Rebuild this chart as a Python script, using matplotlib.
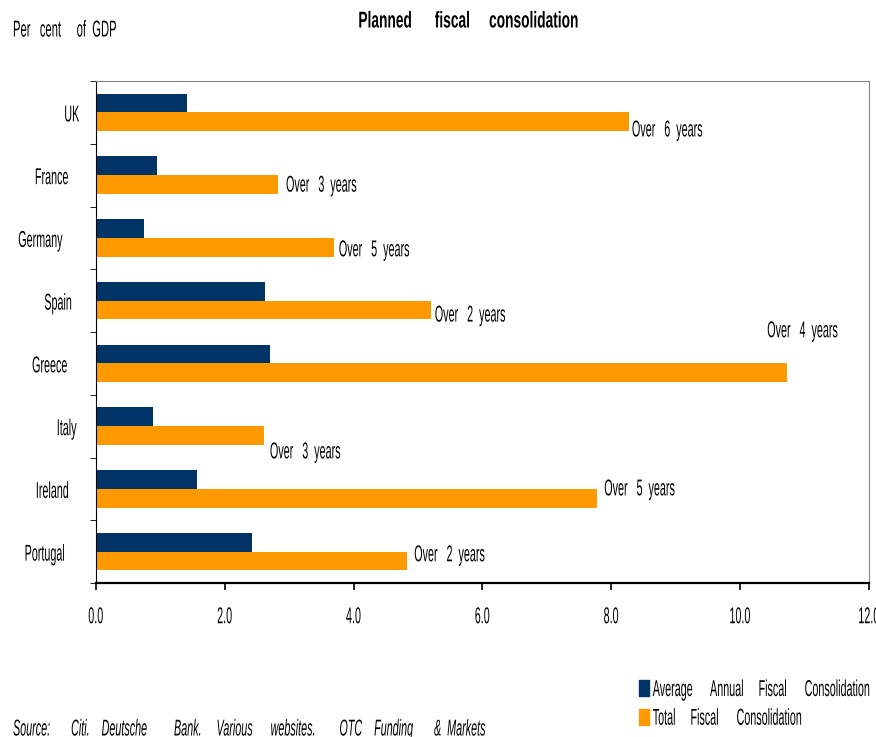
import matplotlib.pyplot as plt
import numpy as np
from matplotlib.patches import Patch
from matplotlib.patheffects import AbstractPathEffect
from matplotlib.transforms import Affine2D

plt.rcParams['font.family'] = ['Liberation Sans', 'DejaVu Sans']

countries = ["UK", "France", "Germany", "Spain", "Greece", "Italy", "Ireland", "Portugal"]
avg_annual = [1.41, 0.95, 0.75, 2.62, 2.70, 0.89, 1.57, 2.42]
total = [8.28, 2.83, 3.69, 5.20, 10.73, 2.61, 7.78, 4.83]
years = [6, 3, 5, 2, 4, 3, 5, 2]
# hand-placed label spots (x, y in data units)
label_x = [8.32, 2.95, 3.77, 5.26, 10.42, 2.70, 7.89, 4.94]
label_y = [0.28, 1.16, 2.19, 3.23, 3.48, 5.41, 6.00, 7.05]

navy = "#003366"
orange = "#FF9900"
FS = 16.5


class Squeeze(AbstractPathEffect):
    """Draw text horizontally condensed (the original uses a narrow font)."""

    def __init__(self, sx=0.47, anchor="left"):
        super().__init__()
        self.sx = sx
        self.anchor = anchor

    def draw_path(self, renderer, gc, tpath, affine, rgbFace=None):
        v = tpath.vertices
        if len(v) == 0:
            return
        a = 0.0
        if self.anchor == "center":
            a = v[:, 0].max() / 2
        elif self.anchor == "right":
            a = v[:, 0].max()
        sq = Affine2D().translate(-a, 0).scale(self.sx, 1).translate(a, 0)
        renderer.draw_path(gc, tpath, sq + affine, rgbFace)


def narrow(t, sx=0.47, anchor="left"):
    t.set_path_effects([Squeeze(sx, anchor)])
    return t


fig = plt.figure(figsize=(8.76, 7.37), dpi=100)
ax = fig.add_axes([96 / 876, 1 - 583 / 737, (869 - 96) / 876, (583 - 81) / 737])

y = np.arange(len(countries))
h = 0.3
ax.barh(y - h / 2, avg_annual, height=h, color=navy)
ax.barh(y + h / 2, total, height=h, color=orange)

for i, n in enumerate(years):
    narrow(ax.text(label_x[i], label_y[i], f"Over   {n}  years", fontsize=FS, va="center", ha="left"))

ax.set_xlim(0, 12)
ax.set_ylim(len(countries) - 0.5, -0.5)
xt = np.arange(0, 12.1, 2)
ax.set_xticks(xt)
ax.set_xticklabels([f"{v:.1f}" for v in xt], fontsize=FS)
ax.set_yticks(y)
ax.set_yticklabels(countries, fontsize=FS)
ax.set_yticks(np.arange(-0.5, len(countries)), minor=True)
ax.tick_params(axis="y", which="major", length=0, pad=6)
ax.tick_params(axis="y", which="minor", length=4, direction="out", color="black")
ax.tick_params(axis="x", length=5, width=1.2, direction="out", pad=11, color="black")
for t in ax.get_xticklabels():
    narrow(t, anchor="center")
for t in ax.get_yticklabels():
    narrow(t, anchor="center")

for s in ["top", "right"]:
    ax.spines[s].set_color("#808080")
ax.spines["left"].set_color("black")
ax.spines["bottom"].set_color("black")
ax.spines["bottom"].set_linewidth(1.6)

narrow(fig.text(468 / 876, 1 - 21 / 737, "Planned      fiscal     consolidation", fontsize=FS,
                fontweight="bold", ha="center", va="center"), sx=0.6, anchor="center")
narrow(fig.text(13 / 876, 1 - 30 / 737, "Per   cent     of  GDP", fontsize=FS, ha="left", va="center"),
       sx=0.49)
narrow(fig.text(13 / 876, 1 - 729 / 737,
                "Source:       Citi.    Deutsche         Bank.     Various      websites.        OTC    Funding       &  Markets",
                fontsize=FS, style="italic", ha="left", va="center"))

handles = [Patch(color=navy, label="Average      Annual     Fiscal      Consolidation"),
           Patch(color=orange, label="Total     Fiscal      Consolidation")]
leg = fig.legend(handles=handles, loc="upper left", bbox_to_anchor=(639 / 876, 1 - 678 / 737),
                 frameon=False, fontsize=FS, handlelength=0.45, handleheight=0.7, handletextpad=0.15,
                 labelspacing=0.25, borderpad=0, borderaxespad=0)
for t in leg.get_texts():
    narrow(t)

plt.savefig("out.png", dpi=100)
